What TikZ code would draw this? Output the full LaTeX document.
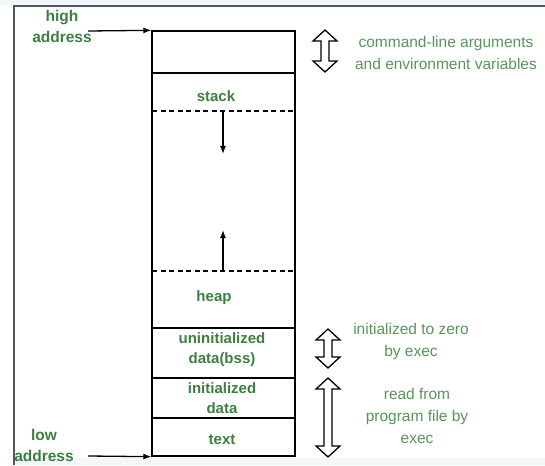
\documentclass[tikz,border=0pt]{standalone}
\usepackage{fontspec}
\setmainfont{Liberation Sans}
\usetikzlibrary{arrows.meta}

\definecolor{labelgreen}{HTML}{3E7F40}
\definecolor{notegreen}{HTML}{5A955B}
\definecolor{framegray}{HTML}{505A5E}
\definecolor{paleblue}{HTML}{F1F7FA}

\tikzset{
  seg/.style={draw=black, line width=1.3pt, minimum width=143pt, inner sep=0pt, anchor=center},
  seglabel/.style={text=labelgreen, font=\bfseries\fontsize{15}{20}\selectfont, align=center, inner sep=0pt},
  note/.style={text=notegreen, font=\fontsize{15.5}{22}\selectfont, align=center, inner sep=0pt},
  addr/.style={text=labelgreen, font=\bfseries\fontsize{15.5}{21}\selectfont, align=center, inner sep=0pt},
  pointer/.style={draw=black, line width=1.3pt, -{Latex[length=8pt,width=6pt]}},
  growth/.style={draw=black, line width=1.3pt, -{Latex[length=8pt,width=6pt]}},
  limit/.style={draw=black, line width=1.3pt, dash pattern=on 5pt off 3.5pt},
  hollow/.style={draw=black, line width=1.3pt, fill=white, line join=miter}
}

% hollow double-headed arrow: centre x, top y, bottom y
\newcommand\hollowspan[3]{%
  \path[hollow] (#1,#2) -- ({#1+12},{#2+11}) -- ({#1+4},{#2+11}) -- ({#1+4},{#3-11})
    -- ({#1+12},{#3-11}) -- (#1,#3) -- ({#1-12},{#3-11}) -- ({#1-4},{#3-11})
    -- ({#1-4},{#2+11}) -- ({#1-12},{#2+11}) -- cycle;}

\begin{document}
\begin{tikzpicture}[x=1pt,y=-1pt]
\useasboundingbox (0,0) rectangle (545,465);
\fill[white] (0,0) rectangle (545,465);
\fill[paleblue] (0,0) rectangle (545,5);
\fill[paleblue] (14,458) rectangle (545,465);

% outer frame (left and top edges)
\draw[framegray, line width=2pt] (14,465) -- (14,6) -- (545,6);

% memory segments
\node[seg, minimum height=42pt]  (args)  at (223.5,52)    {};
\node[seg, minimum height=255pt] (dyn)   at (223.5,200.5) {};
\node[seg, minimum height=50pt]  (bss)   at (223.5,353)   {};
\node[seg, minimum height=40pt]  (idata) at (223.5,398)   {};
\node[seg, minimum height=38pt]  (txt)   at (223.5,437)   {};

% stack and heap limits
\coordinate (stl) at (152,111);
\coordinate (str) at (295,111);
\coordinate (hpl) at (152,271);
\coordinate (hpr) at (295,271);
\draw[limit] (stl) -- (str);
\draw[limit] (hpl) -- (hpr);

% growth directions
\coordinate (sttop) at (223,111);
\coordinate (stend) at (223,154);
\coordinate (hpbot) at (223,271);
\coordinate (hpend) at (223,230);
\draw[growth] (sttop) -- (stend);
\draw[growth] (hpbot) -- (hpend);

% segment labels
\node[seglabel] (lstack) at (216,96)  {stack};
\node[seglabel] (lheap)  at (214,298) {heap};
\node[seglabel] (lbss)   at (222,350) {uninitialized\\data(bss)};
\node[seglabel] (ldata)  at (222,398) {initialized\\data};
\node[seglabel] (ltext)  at (222,440) {text};

% address markers
\node[addr] (high) at (62,26) {high\\address};
\node[addr] (low)  at (44,445) {low\\address};
\coordinate (hstart) at (88,31);
\coordinate (lstart) at (88,456);
\draw[pointer] (hstart) -- (args.north west);
\draw[pointer] (lstart) -- (txt.south west);

% spans on the right
\hollowspan{325}{30}{72}
\hollowspan{328}{329}{368}
\hollowspan{328}{378}{457}

\node[note] (ncmd)  at (446,53)  {command-line arguments\\and environment variables};
\node[note] (nzero) at (411,341) {initialized to zero\\by exec};
\node[note] (nread) at (417,416) {read from\\program file by\\exec};
\end{tikzpicture}
\end{document}
